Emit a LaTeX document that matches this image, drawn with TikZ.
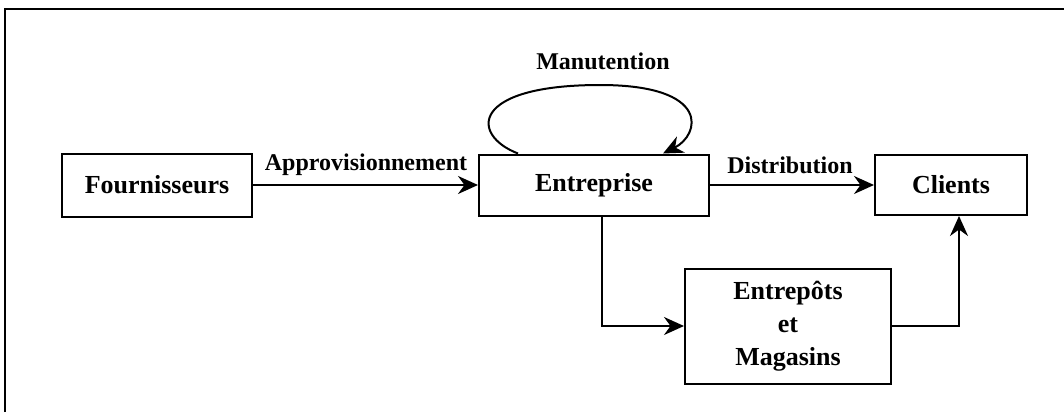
\documentclass[tikz,border=0pt]{standalone}
\usepackage{fontspec}
\setmainfont{Liberation Serif}
\usetikzlibrary{calc}
\usetikzlibrary{positioning}
\usetikzlibrary{arrows.meta}
\tikzstyle{boxnode} = [draw, line width=2pt, align=center, font=\fontsize{26}{33}\selectfont\bfseries]
\tikzstyle{flowlabel} = [font=\fontsize{24}{28}\selectfont\bfseries]
\tikzstyle{flow} = [line width=2pt, -{Stealth[length=20pt,width=18pt]}]

\begin{document}
\begin{tikzpicture}[x=1pt, y=-1pt]
    \useasboundingbox (0,0) rectangle (1064,412);
    \draw[line width=2pt] (5,412) -- (5,9) -- (1064,9);

    \node[boxnode, minimum width=190pt, minimum height=63pt] (fourn) at (157,185) {Fournisseurs};
    \node[boxnode, minimum width=230pt, minimum height=61pt] (entr) at (594,185) {Entreprise};
    \node[boxnode, minimum width=152pt, minimum height=60pt] (clients) at (951,185) {Clients};
    \node[boxnode, minimum width=206pt, minimum height=115pt] (depots) at (788,326) {Entrepôts\\et\\Magasins};

    \draw[flow] (fourn) -- (entr);
    \node[flowlabel] (lab_appro) at (366,165) {Approvisionnement};

    \draw[flow] (entr) -- (clients);
    \node[flowlabel] (lab_distr) at (790,165) {Distribution};

    \draw[flow] ([xshift=-76pt]entr.north) .. controls (470,135) and (470,85) .. (600,85)
        .. controls (712,85) and (700,135) .. ([xshift=69pt]entr.north);
    \node[flowlabel] (lab_manut) at (603,61) {Manutention};

    \draw[flow] ([xshift=8pt]entr.south) |- (depots.west);
    \draw[flow] (depots.east) -| ([xshift=8pt]clients.south);
\end{tikzpicture}
\end{document}
